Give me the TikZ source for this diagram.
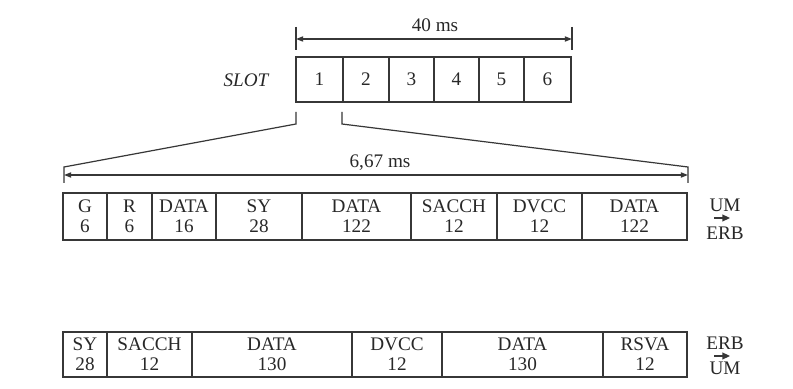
\documentclass[tikz,border=0pt]{standalone}
\usepackage{fontspec}
\setmainfont{Liberation Serif}
\usepackage{tikz}
\usetikzlibrary{arrows.meta}
\definecolor{inkline}{RGB}{55,55,55}
\definecolor{inktext}{RGB}{40,40,40}

\begin{document}
\begin{tikzpicture}[x=.5pt,y=-.5pt,
  cell/.style={draw=inkline,line width=0.6pt,inner sep=0pt,outer sep=0pt,align=center,text=inktext,font=\fontsize{9.6}{10}\selectfont},
  lbl/.style={inner sep=0pt,outer sep=0pt,anchor=base,text=inktext,font=\fontsize{9.6}{11.4}\selectfont},
  rule/.style={draw=inkline,line width=0.6pt},
  dimarrow/.style={draw=inkline,line width=0.6pt,{Triangle[length=3.6pt,width=2.6pt]}-{Triangle[length=3.6pt,width=2.6pt]}},
  dirarrow/.style={draw=inkline,line width=0.7pt,-{Triangle[length=3.8pt,width=3.4pt]}}]
\path[use as bounding box] (0,0) rectangle (793,389);
\path[fill=white,draw=none] (0,0) rectangle (793,389);
% frame of six slots
\node[lbl,font=\itshape\fontsize{9.6}{11.4}\selectfont] (slot) at (246,87) {SLOT};
\node[cell,minimum width=23.5pt,minimum height=22.5pt] (s1) at (319.5,79.5) {1};
\node[cell,minimum width=23pt,minimum height=22.5pt] (s2) at (366,79.5) {2};
\node[cell,minimum width=22.5pt,minimum height=22.5pt] (s3) at (411.5,79.5) {3};
\node[cell,minimum width=22.5pt,minimum height=22.5pt] (s4) at (456.5,79.5) {4};
\node[cell,minimum width=22.5pt,minimum height=22.5pt] (s5) at (501.5,79.5) {5};
\node[cell,minimum width=23.5pt,minimum height=22.5pt] (s6) at (547.5,79.5) {6};
% 40 ms dimension
\coordinate (t40a) at (296,27);
\coordinate (t40b) at (296,50);
\coordinate (t40c) at (572,27);
\coordinate (t40d) at (572,50);
\coordinate (t40l) at (296,39);
\coordinate (t40r) at (572,39);
\draw[rule] (t40a) -- (t40b);
\draw[rule] (t40c) -- (t40d);
\draw[dimarrow] (t40l) -- (t40r);
\node[lbl] (ms40) at (435,32) {40 ms};
% zoom of slot 1
\coordinate (z1a) at (296,112);
\coordinate (z1b) at (296,124);
\coordinate (z2a) at (342,112);
\coordinate (z2b) at (342,124);
\coordinate (f1a) at (64,167);
\coordinate (f1b) at (64,183);
\coordinate (f2a) at (688,167);
\coordinate (f2b) at (688,183);
\coordinate (f1m) at (64,175);
\coordinate (f2m) at (688,175);
\draw[rule] (z1a) -- (z1b) -- (f1a) -- (f1b);
\draw[rule] (z2a) -- (z2b) -- (f2a) -- (f2b);
\draw[dimarrow] (f1m) -- (f2m);
\node[lbl] (ms667) at (380,168) {6,67 ms};
% uplink burst UM -> ERB
\node[cell,minimum width=22pt,minimum height=23.5pt] (u1) at (85,216.5) {G\\6};
\node[cell,minimum width=22.5pt,minimum height=23.5pt] (u2) at (129.5,216.5) {R\\6};
\node[cell,minimum width=32pt,minimum height=23.5pt] (u3) at (184,216.5) {DATA\\16};
\node[cell,minimum width=43pt,minimum height=23.5pt] (u4) at (259,216.5) {SY\\28};
\node[cell,minimum width=54.5pt,minimum height=23.5pt] (u5) at (356.5,216.5) {DATA\\122};
\node[cell,minimum width=43pt,minimum height=23.5pt] (u6) at (454,216.5) {SACCH\\12};
\node[cell,minimum width=42.5pt,minimum height=23.5pt] (u7) at (539.5,216.5) {DVCC\\12};
\node[cell,minimum width=52.5pt,minimum height=23.5pt] (u8) at (634.5,216.5) {DATA\\122};
\node[lbl] (upsrc) at (725,212) {UM};
\node[lbl] (updst) at (725,240) {ERB};
\coordinate (upa) at (714,218);
\coordinate (upb) at (730,218);
\draw[dirarrow] (upa) -- (upb);
% downlink burst ERB -> UM
\node[cell,minimum width=22pt,minimum height=22.5pt] (d1) at (85,354.5) {SY\\28};
\node[cell,minimum width=42.5pt,minimum height=22.5pt] (d2) at (149.5,354.5) {SACCH\\12};
\node[cell,minimum width=80pt,minimum height=22.5pt] (d3) at (272,354.5) {DATA\\130};
\node[cell,minimum width=45pt,minimum height=22.5pt] (d4) at (397,354.5) {DVCC\\12};
\node[cell,minimum width=80.5pt,minimum height=22.5pt] (d5) at (522.5,354.5) {DATA\\130};
\node[cell,minimum width=42pt,minimum height=22.5pt] (d6) at (645,354.5) {RSVA\\12};
\node[lbl] (dnsrc) at (725,350) {ERB};
\node[lbl] (dndst) at (725,375) {UM};
\coordinate (dna) at (714,356);
\coordinate (dnb) at (730,356);
\draw[dirarrow] (dna) -- (dnb);
\end{tikzpicture}
\end{document}
